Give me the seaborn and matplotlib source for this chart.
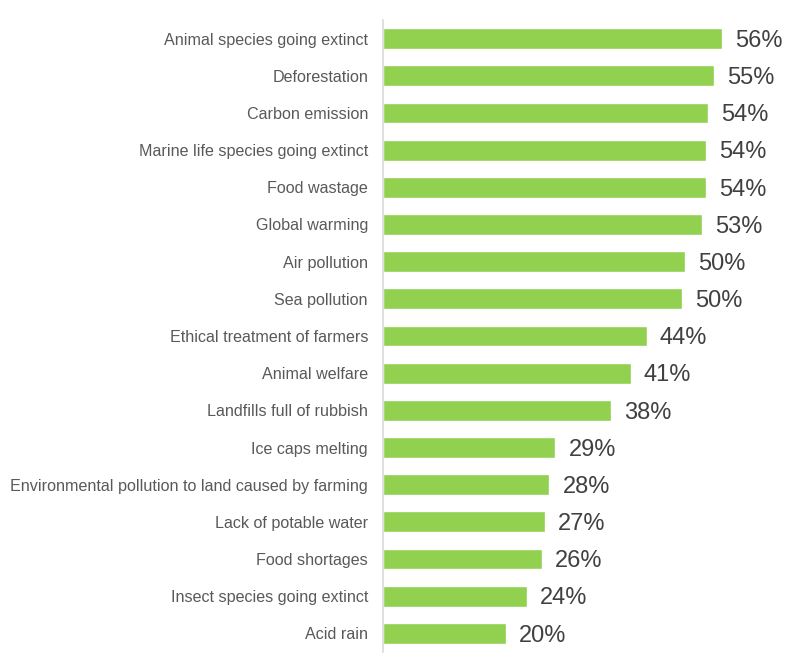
import matplotlib
matplotlib.use("Agg")
import matplotlib.pyplot as plt
import seaborn as sns
import pandas as pd

categories = [
    "Animal species going extinct",
    "Deforestation",
    "Carbon emission",
    "Marine life species going extinct",
    "Food wastage",
    "Global warming",
    "Air pollution",
    "Sea pollution",
    "Ethical treatment of farmers",
    "Animal welfare",
    "Landfills full of rubbish",
    "Ice caps melting",
    "Environmental pollution to land caused by farming",
    "Lack of potable water",
    "Food shortages",
    "Insect species going extinct",
    "Acid rain",
]
values = [56.2, 54.9, 53.9, 53.6, 53.6, 52.9, 50.1, 49.6, 43.7, 41.1, 37.8,
          28.6, 27.6, 26.9, 26.4, 23.8, 20.4]

df = pd.DataFrame({"category": categories, "value": values})

sns.set_theme(style="white")
plt.rcParams["font.family"] = ["Liberation Sans", "DejaVu Sans"]

fig = plt.figure(figsize=(7.86, 6.55), dpi=100)
ax = fig.add_axes([383 / 786, 1 - 652 / 655, 1 - 383 / 786, (652 - 20) / 655])

sns.barplot(data=df, x="value", y="category", order=categories, orient="h",
            color="#92D050", saturation=1, width=0.56, ax=ax)

ax.set_xlim(0, 403 / 6.03)
ax.set_ylim(len(categories) - 0.5, -0.5)
ax.set_xlabel("")
ax.set_ylabel("")
ax.set_xticks([])
for s in ["top", "right", "bottom"]:
    ax.spines[s].set_visible(False)
ax.spines["left"].set_color("#d9d9d9")
ax.spines["left"].set_linewidth(1.2)
ax.tick_params(axis="y", length=0, pad=10.8, labelsize=11.6, labelcolor="#595959")
for lbl in ax.get_yticklabels():
    lbl.set_y(lbl.get_position()[1])

for i, v in enumerate(values):
    ax.text(v + 13 / 6.03, i + 0.06, f"{round(v)}%", va="center", ha="left",
            fontsize=17, color="#404040")

fig.savefig("out.png", dpi=100)
